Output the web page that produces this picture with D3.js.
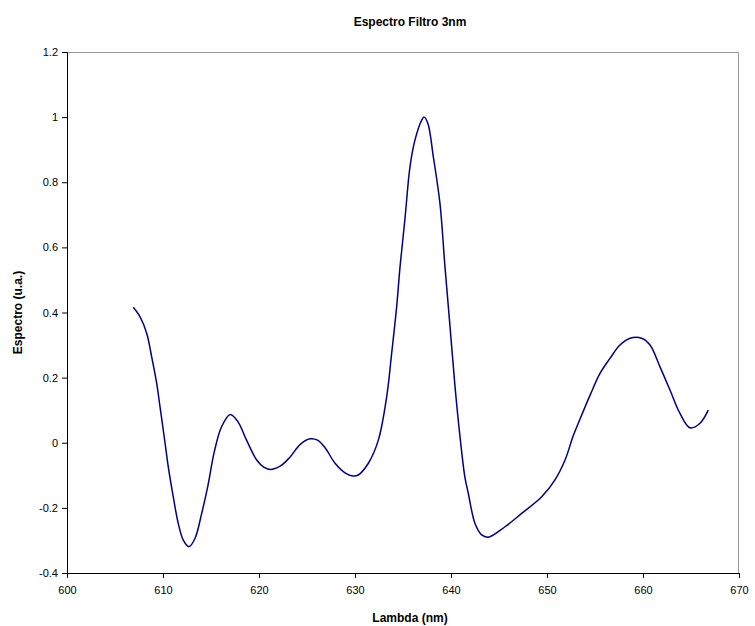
<!DOCTYPE html>
<html>
<head>
<meta charset="utf-8">
<script src="https://cdn.jsdelivr.net/npm/d3@7"></script>
<style>
  body { margin: 0; background: #fff; }
  svg { display: block; font-family: Arial, 'Liberation Sans', sans-serif; }
</style>
</head>
<body>
<svg id="chart" width="755" height="626"></svg>
<script>
// --- data ---
const lambda = [
  606.91, 607.6, 608.3, 608.82, 609.34, 609.69, 610.21, 610.55, 611.07, 611.59, 612.11, 612.71,
  613.33, 614.03, 614.66, 615.34, 616.1, 617.0, 617.8, 618.7, 619.76, 620.5, 621.15, 622.2,
  623.2, 624.3, 625.3, 626.1, 626.9, 627.9, 629.0, 629.8, 630.34, 631.39, 632.43, 633.3,
  633.82, 634.34, 634.69, 635.21, 635.73, 636.25, 636.95, 637.2, 637.6, 638.16, 638.85, 639.37,
  639.9, 640.42, 640.94, 641.46, 641.8, 642.5, 643.2, 643.89, 645.63, 647.36, 649.45, 650.83,
  651.88, 652.74, 653.4, 654.5, 655.52, 656.56, 657.6, 658.65, 659.86, 660.73, 661.77, 662.81,
  663.85, 664.9, 665.94, 666.8
];
const espectro = [
  0.416, 0.387, 0.336, 0.264, 0.183, 0.11, 0.0, -0.074, -0.166, -0.248, -0.299, -0.319,
  -0.294, -0.217, -0.135, -0.028, 0.049, 0.087, 0.065, 0.008, -0.053, -0.075, -0.082, -0.072,
  -0.045, -0.005, 0.012, 0.008, -0.016, -0.062, -0.093, -0.102, -0.099, -0.063, 0.008, 0.141,
  0.275, 0.418, 0.54, 0.69, 0.848, 0.93, 0.991, 1.0, 0.98, 0.878, 0.735, 0.541,
  0.356, 0.172, 0.018, -0.108, -0.155, -0.248, -0.283, -0.29, -0.258, -0.217, -0.166, -0.114,
  -0.053, 0.022, 0.07, 0.147, 0.213, 0.259, 0.3, 0.321, 0.321, 0.3, 0.233, 0.162,
  0.09, 0.046, 0.06, 0.1
];
const xTicks = [600, 610, 620, 630, 640, 650, 660, 670];
const yTicks = [-0.4, -0.2, 0, 0.2, 0.4, 0.6, 0.8, 1, 1.2];

const svg = d3.select('#chart');
const margin = { top: 52, right: 16, bottom: 53, left: 67 };
const width = 755 - margin.left - margin.right;
const height = 626 - margin.top - margin.bottom;

const x = d3.scaleLinear().domain([600, 670]).range([0, width]);
const y = d3.scaleLinear().domain([-0.4, 1.2]).range([height, 0]);

const g = svg.append('g').attr('transform', `translate(${margin.left},${margin.top})`);

// frame (top + right in grey)
g.append('path')
  .attr('d', `M0,0.5H${width - 0.5}V${height}`)
  .attr('fill', 'none')
  .attr('stroke', '#999')
  .attr('stroke-width', 1);

// axes (plain hyphen minus like the original)
const fmt = d => String(+d.toFixed(1));
const xAxis = g.append('g')
  .attr('transform', `translate(0,${height})`)
  .call(d3.axisBottom(x).tickValues(xTicks).tickSize(5).tickFormat(fmt));
const yAxis = g.append('g')
  .call(d3.axisLeft(y).tickValues(yTicks).tickSize(5).tickFormat(fmt));

[xAxis, yAxis].forEach(a => {
  a.selectAll('path, line').attr('stroke', '#000');
  a.selectAll('text').attr('fill', '#000').attr('font-size', 11)
    .attr('font-family', "Arial, 'Liberation Sans', sans-serif");
});
xAxis.selectAll('text').attr('dy', '1.2em');
yAxis.selectAll('text').attr('dx', '-1px');

// series
const line = d3.line()
  .x((d, i) => x(lambda[i]))
  .y(d => y(d))
  .curve(d3.curveCatmullRom.alpha(0.5));

g.append('path')
  .datum(espectro)
  .attr('fill', 'none')
  .attr('stroke', '#000080')
  .attr('stroke-width', 1.5)
  .attr('d', line);

// labels
svg.append('text')
  .attr('x', margin.left + width / 2 + 7)
  .attr('y', 26)
  .attr('text-anchor', 'middle')
  .attr('font-size', 12)
  .attr('font-weight', 'bold')
  .text('Espectro Filtro 3nm');

svg.append('text')
  .attr('x', margin.left + width / 2 + 7)
  .attr('y', 622)
  .attr('text-anchor', 'middle')
  .attr('font-size', 12)
  .attr('font-weight', 'bold')
  .text('Lambda (nm)');

svg.append('text')
  .attr('transform', `translate(22,${margin.top + height / 2}) rotate(-90)`)
  .attr('text-anchor', 'middle')
  .attr('font-size', 12)
  .attr('font-weight', 'bold')
  .text('Espectro (u.a.)');
</script>
</body>
</html>
